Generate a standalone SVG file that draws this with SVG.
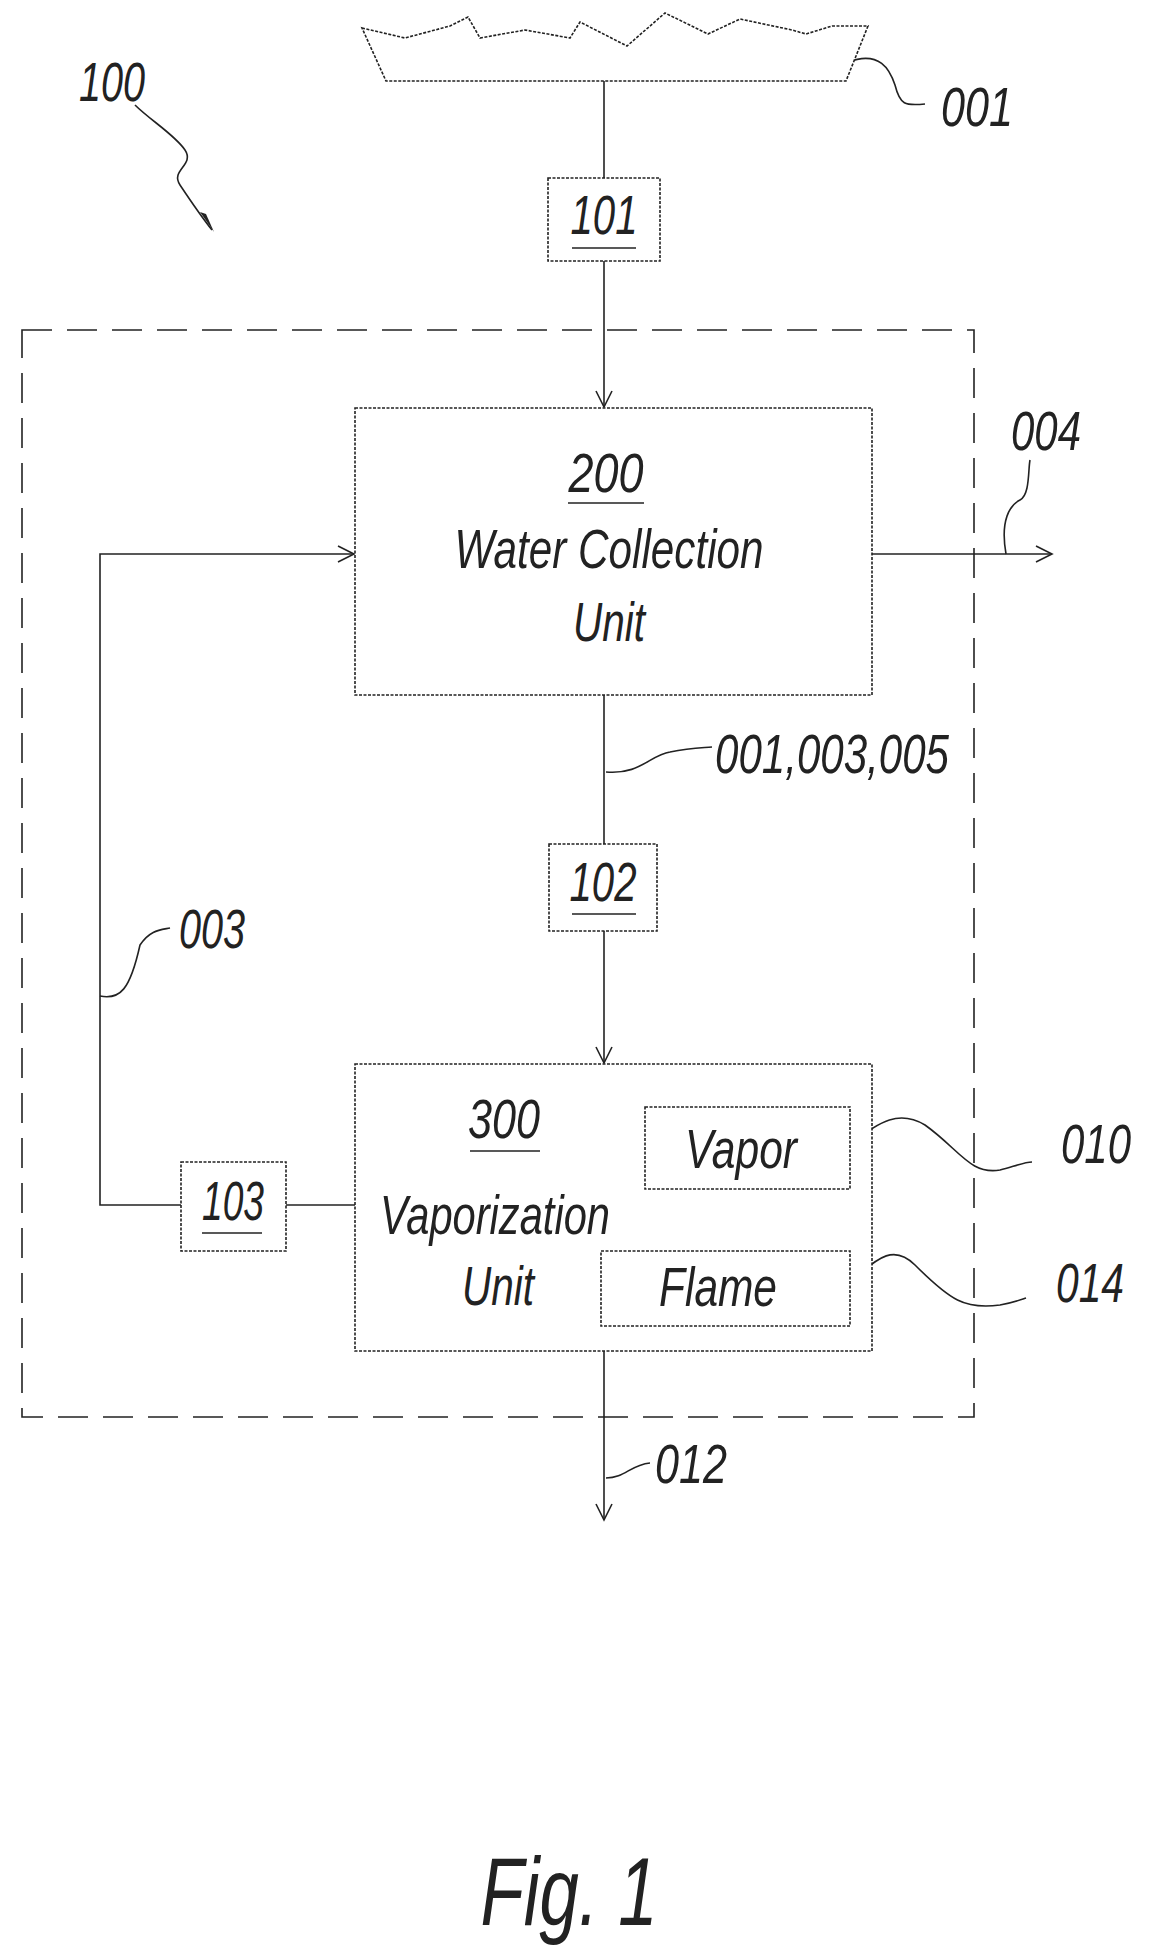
<svg xmlns="http://www.w3.org/2000/svg" width="1158" height="1957" viewBox="0 0 1158 1957">
<style>
.l{fill:none;stroke:#222;stroke-width:1.6}
.b{fill:#fff;stroke:#222;stroke-width:1.6;stroke-dasharray:3 1.5}
.t{font-family:"Liberation Sans",Arial,sans-serif;font-style:italic;fill:#222;text-anchor:middle;font-size:56px}
</style>
<defs>
<marker id="a" viewBox="0 0 20 20" refX="18" refY="10" markerWidth="20" markerHeight="20" markerUnits="userSpaceOnUse" orient="auto"><path d="M2,2 L18,10 L2,18" fill="none" stroke="#222" stroke-width="1.6"/></marker>
</defs>
<rect width="1158" height="1957" fill="#fff"/>
<g id="connectors">
<line class="l" x1="604" y1="81" x2="604" y2="178"/>
<line class="l" x1="604" y1="261" x2="604" y2="407" marker-end="url(#a)"/>
<polyline class="l" points="181,1205 100,1205 100,554 354,554" marker-end="url(#a)"/>
<line class="l" x1="286" y1="1205" x2="355" y2="1205"/>
<line class="l" x1="872" y1="554" x2="1052" y2="554" marker-end="url(#a)"/>
<line class="l" x1="604" y1="695" x2="604" y2="844"/>
<line class="l" x1="604" y1="931" x2="604" y2="1063" marker-end="url(#a)"/>
<line class="l" x1="604" y1="1351" x2="604" y2="1520" marker-end="url(#a)"/>
<path class="l" d="M1006,554 C1000,520 1010,505 1020,500 C1030,495 1028,470 1030,460"/>
<path class="l" d="M848,62 C880,50 890,70 895,85 C900,105 905,106 925,104"/>
<path class="l" d="M606,772 C640,775 650,755 670,752 C690,748 700,748 712,747"/>
<path class="l" d="M100,996 C120,1000 130,990 140,945 C150,930 160,930 170,928"/>
<path class="l" d="M850,1145 C880,1120 900,1110 925,1125 C960,1150 970,1175 1000,1170 C1015,1166 1025,1162 1032,1162"/>
<path class="l" d="M850,1282 C880,1255 895,1245 915,1265 C950,1300 965,1310 1000,1305 C1012,1303 1020,1300 1026,1298"/>
<path class="l" d="M606,1478 C625,1478 630,1465 650,1463"/>
<path class="l" d="M135,105 C150,120 175,135 185,150 C195,165 170,170 180,185 C190,200 200,215 212,230"/>
<path d="M200,212 L214,232 L206,214 Z" fill="#222"/>
<rect x="22" y="330" width="952" height="1087" fill="none" stroke="#222" stroke-width="1.6" stroke-dasharray="30 15"/>
</g>
<g id="source001"><path class="b" d="M362,28 L405,38 L450,26 L468,17 L480,38 L525,30 L570,38 L580,22 L627,46 L665,13 L708,34 L740,19 L792,30 L806,34 L832,26 L868,26 L846,81 L386,81 Z"/></g>
<g id="n101"><rect class="b" x="548" y="178" width="112" height="83"/><text class="t" x="604" y="234" textLength="67" lengthAdjust="spacingAndGlyphs">101</text><line class="l" x1="572" y1="248" x2="636" y2="248"/></g>
<g id="n200"><rect class="b" x="355" y="408" width="517" height="287"/>
<text class="t" x="606" y="492" textLength="75" lengthAdjust="spacingAndGlyphs">200</text><line class="l" x1="568" y1="503" x2="644" y2="503"/>
<text class="t" x="609" y="568" textLength="309" lengthAdjust="spacingAndGlyphs">Water Collection</text>
<text class="t" x="609" y="641" textLength="72" lengthAdjust="spacingAndGlyphs">Unit</text></g>
<g id="n102"><rect class="b" x="549" y="844" width="108" height="87"/><text class="t" x="603" y="901" textLength="67" lengthAdjust="spacingAndGlyphs">102</text><line class="l" x1="572" y1="914" x2="636" y2="914"/></g>
<g id="n300"><rect class="b" x="355" y="1064" width="517" height="287"/>
<text class="t" x="504" y="1138" textLength="72" lengthAdjust="spacingAndGlyphs">300</text><line class="l" x1="470" y1="1151" x2="540" y2="1151"/>
<text class="t" x="495" y="1234" textLength="230" lengthAdjust="spacingAndGlyphs">Vaporization</text>
<text class="t" x="498" y="1305" textLength="72" lengthAdjust="spacingAndGlyphs">Unit</text></g>
<g id="vapor"><rect class="b" x="645" y="1107" width="205" height="82"/><text class="t" x="741" y="1168" textLength="112" lengthAdjust="spacingAndGlyphs">Vapor</text></g>
<g id="flame"><rect class="b" x="601" y="1251" width="249" height="75"/><text class="t" x="718" y="1306" textLength="118" lengthAdjust="spacingAndGlyphs">Flame</text></g>
<g id="n103"><rect class="b" x="181" y="1162" width="105" height="89"/><text class="t" x="233" y="1220" textLength="62" lengthAdjust="spacingAndGlyphs">103</text><line class="l" x1="202" y1="1233" x2="262" y2="1233"/></g>
<g id="labels">
<text class="t" x="112" y="101" textLength="66" lengthAdjust="spacingAndGlyphs">100</text>
<text class="t" x="977" y="126" textLength="72" lengthAdjust="spacingAndGlyphs">001</text>
<text class="t" x="1046" y="450" textLength="70" lengthAdjust="spacingAndGlyphs">004</text>
<text class="t" x="832" y="773" textLength="234" lengthAdjust="spacingAndGlyphs">001,003,005</text>
<text class="t" x="212" y="948" textLength="66" lengthAdjust="spacingAndGlyphs">003</text>
<text class="t" x="1096" y="1163" textLength="70" lengthAdjust="spacingAndGlyphs">010</text>
<text class="t" x="1090" y="1302" textLength="68" lengthAdjust="spacingAndGlyphs">014</text>
<text class="t" x="691" y="1483" textLength="72" lengthAdjust="spacingAndGlyphs">012</text>
<text class="t" x="569" y="1925" style="font-size:96px" textLength="177" lengthAdjust="spacingAndGlyphs">Fig. 1</text>
</g>
</svg>
